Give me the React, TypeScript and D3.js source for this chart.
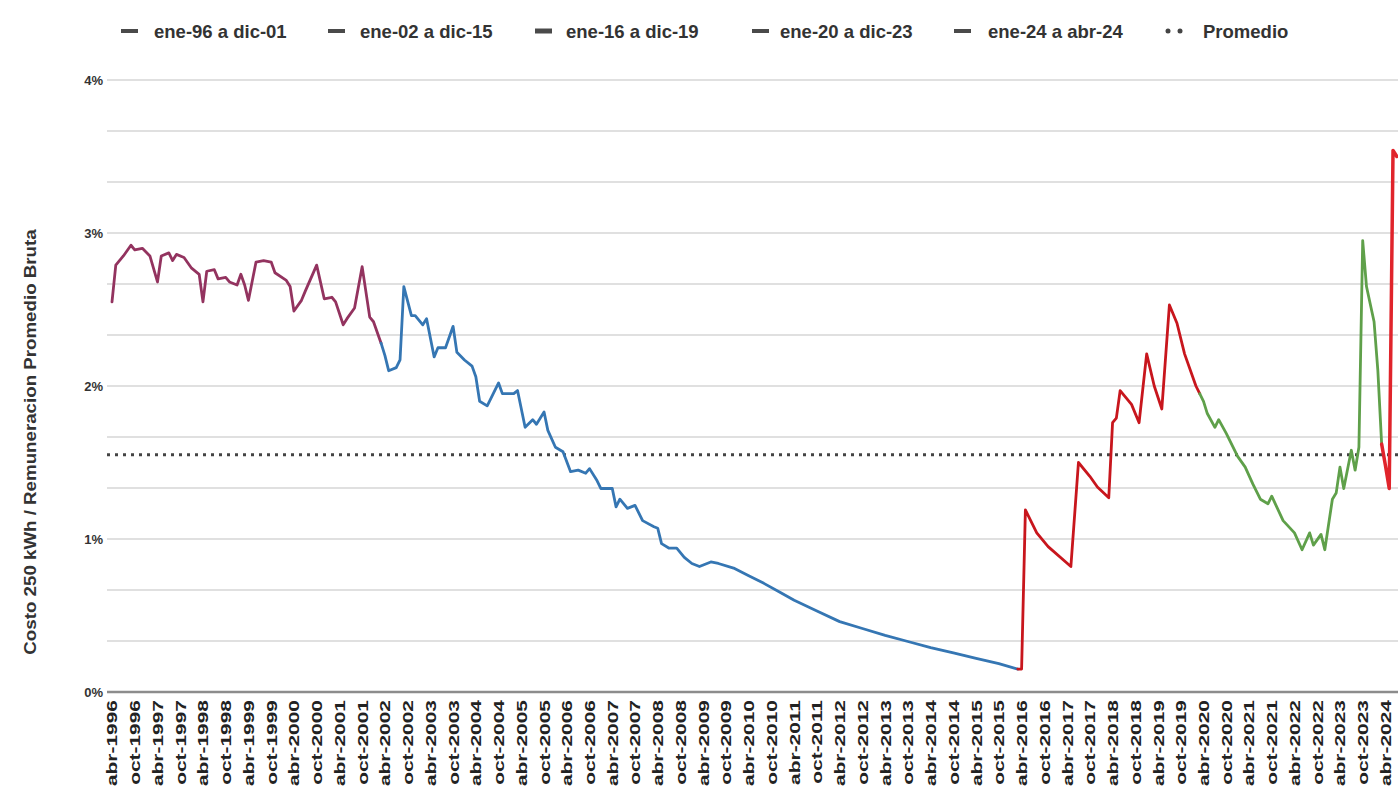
import React, { useEffect } from "react";
import * as d3 from "d3";

// ---------- DATA ----------
const legendLabels = [
  "ene-96 a dic-01",
  "ene-02 a dic-15",
  "ene-16 a dic-19",
  "ene-20 a dic-23",
  "ene-24 a abr-24",
];
const averageLabel = "Promedio";
const averageValue = 1.55;
const seriesColors = ["#93335f", "#3576b3", "#c8161d", "#5fa04a", "#e0242b"];

const s1Months = ["1996-01","1996-02","1996-04","1996-06","1996-07","1996-09","1996-11","1997-01","1997-02","1997-04","1997-05","1997-06","1997-08","1997-10","1997-12","1998-01","1998-02","1998-04","1998-05","1998-07","1998-08","1998-10","1998-11","1998-12","1999-01","1999-03","1999-05","1999-07","1999-08","1999-11","1999-12","2000-01","2000-03","2000-04","2000-07","2000-09","2000-11","2000-12","2001-02","2001-03","2001-05","2001-07","2001-09","2001-10","2001-12"];
const s1Values = [2.55,2.79,2.85,2.92,2.89,2.9,2.85,2.68,2.85,2.87,2.82,2.86,2.84,2.77,2.73,2.55,2.75,2.76,2.7,2.71,2.68,2.66,2.73,2.66,2.56,2.81,2.82,2.81,2.74,2.69,2.65,2.49,2.56,2.62,2.79,2.57,2.58,2.55,2.4,2.44,2.51,2.78,2.45,2.42,2.28];

const s2Months = ["2002-01","2002-02","2002-04","2002-05","2002-06","2002-08","2002-09","2002-11","2002-12","2003-02","2003-03","2003-05","2003-07","2003-08","2003-10","2003-12","2004-01","2004-02","2004-04","2004-07","2004-08","2004-11","2004-12","2005-02","2005-04","2005-05","2005-07","2005-08","2005-10","2005-12","2006-02","2006-04","2006-06","2006-07","2006-09","2006-10","2007-01","2007-02","2007-03","2007-05","2007-07","2007-09","2007-12","2008-01","2008-02","2008-04","2008-06","2008-08","2008-10","2008-12","2009-03","2009-05","2009-09","2010-01","2010-05","2010-09","2011-01","2011-07","2012-01","2012-07","2013-01","2013-07","2014-01","2014-07","2015-01","2015-07","2015-12"];
const s2Values = [2.2,2.1,2.12,2.17,2.65,2.46,2.46,2.4,2.44,2.19,2.25,2.25,2.39,2.22,2.17,2.13,2.06,1.9,1.87,2.02,1.95,1.95,1.97,1.73,1.78,1.75,1.83,1.71,1.6,1.57,1.44,1.45,1.43,1.46,1.38,1.33,1.33,1.21,1.26,1.2,1.22,1.12,1.08,1.07,0.97,0.94,0.94,0.88,0.84,0.82,0.85,0.84,0.81,0.76,0.71,0.655,0.6,0.53,0.46,0.415,0.37,0.33,0.29,0.255,0.22,0.185,0.15];

const s3Months = ["2016-01","2016-02","2016-05","2016-08","2017-02","2017-04","2017-07","2017-09","2017-12","2018-01","2018-02","2018-03","2018-06","2018-08","2018-10","2018-12","2019-02","2019-04","2019-06","2019-08","2019-11","2019-12"];
const s3Values = [0.15,1.19,1.04,0.95,0.82,1.5,1.41,1.34,1.27,1.76,1.79,1.97,1.88,1.76,2.21,2.0,1.85,2.53,2.41,2.21,2.0,1.95];

const s4Months = ["2020-01","2020-02","2020-04","2020-05","2020-07","2020-10","2020-12","2021-02","2021-04","2021-06","2021-07","2021-10","2022-01","2022-03","2022-05","2022-06","2022-08","2022-09","2022-11","2022-12","2023-01","2023-02","2023-04","2023-05","2023-06","2023-07","2023-08","2023-10","2023-11","2023-12"];
const s4Values = [1.9,1.82,1.73,1.78,1.69,1.54,1.47,1.36,1.26,1.23,1.28,1.12,1.04,0.93,1.04,0.96,1.03,0.93,1.26,1.3,1.47,1.33,1.58,1.45,1.6,2.95,2.65,2.42,2.1,1.62];

const s5Months = ["2024-01","2024-02","2024-03","2024-04"];
const s5Values = [1.48,1.33,3.54,3.5];

const yTickValues = [0, 1, 2, 3, 4];
const gridValues = [0, 1 / 3, 2 / 3, 1, 4 / 3, 5 / 3, 2, 7 / 3, 8 / 3, 3, 10 / 3, 11 / 3, 4];

const xTickLabels = ["abr-1996","oct-1996","abr-1997","oct-1997","abr-1998","oct-1998","abr-1999","oct-1999","abr-2000","oct-2000","abr-2001","oct-2001","abr-2002","oct-2002","abr-2003","oct-2003","abr-2004","oct-2004","abr-2005","oct-2005","abr-2006","oct-2006","abr-2007","oct-2007","abr-2008","oct-2008","abr-2009","oct-2009","abr-2010","oct-2010","abr-2011","oct-2011","abr-2012","oct-2012","abr-2013","oct-2013","abr-2014","oct-2014","abr-2015","oct-2015","abr-2016","oct-2016","abr-2017","oct-2017","abr-2018","oct-2018","abr-2019","oct-2019","abr-2020","oct-2020","abr-2021","oct-2021","abr-2022","oct-2022","abr-2023","oct-2023","abr-2024"];

const yAxisTitle = "Costo 250 kWh / Remuneracion Promedio Bruta";

// ---------- HELPERS ----------
const monthIndex = (s: string) => {
  const [y, m] = s.split("-").map(Number);
  return (y - 1996) * 12 + (m - 1);
};
const toPoints = (months: string[], values: number[]) =>
  months.map((m, i) => ({ i: monthIndex(m), v: values[i] }));

const seriesList = [
  toPoints(s1Months, s1Values),
  toPoints(s2Months, s2Values),
  toPoints(s3Months, s3Values),
  toPoints(s4Months, s4Values),
  toPoints(s5Months, s5Values),
];

const W = 1398;
const H = 787;
const FONT = "'Liberation Sans', Arial, sans-serif";

export default function App() {
  useEffect(() => {
    document.body.style.margin = "0";
  }, []);

  const lastIndex = monthIndex("2024-04");
  const x = d3.scaleLinear().domain([0, lastIndex]).range([112, 112 + 3.79 * lastIndex]);
  const y = d3.scaleLinear().domain([0, 4]).range([692, 80]);
  const line = d3
    .line<{ i: number; v: number }>()
    .x((d) => x(d.i))
    .y((d) => y(d.v))
    .curve(d3.curveLinear);

  const plotLeft = 107;
  const plotRight = W + 10;

  const legendSwatchX = [121, 328, 535, 752, 954];
  const legendTextX = [154, 360, 566, 780, 988];

  return (
    <svg width={W} height={H} style={{ display: "block", background: "#fff" }} fontFamily={FONT}>
      {/* grid */}
      {gridValues.map((g, k) => (
        <line
          key={k}
          x1={plotLeft}
          x2={plotRight}
          y1={y(g)}
          y2={y(g)}
          stroke={g === 0 ? "#8c8c8c" : "#d6d6d6"}
          strokeWidth={g === 0 ? 2.5 : 1.6}
        />
      ))}
      {/* y labels */}
      {yTickValues.map((t) => (
        <text
          key={t}
          x={103}
          y={y(t)}
          textAnchor="end"
          dominantBaseline="central"
          fontSize={13}
          fontWeight="bold"
          fill="#333"
        >
          {t + "%"}
        </text>
      ))}
      {/* y title */}
      <text
        transform={`translate(30,442) rotate(-90) scale(1.17,1)`}
        textAnchor="middle"
        dominantBaseline="central"
        fontSize={16}
        fontWeight="bold"
        fill="#333"
      >
        {yAxisTitle}
      </text>
      {/* x labels */}
      {xTickLabels.map((lbl, k) => (
        <text
          key={lbl}
          transform={`translate(${x(k * 6)},700) rotate(-90) scale(1.35,1)`}
          textAnchor="end"
          dominantBaseline="central"
          fontSize={15.5}
          fontWeight="bold"
          fill="#222"
        >
          {lbl}
        </text>
      ))}
      {/* average */}
      <line
        x1={plotLeft}
        x2={plotRight}
        y1={y(averageValue)}
        y2={y(averageValue)}
        stroke="#444"
        strokeWidth={3}
        strokeDasharray="3 5"
      />
      {/* series */}
      {seriesList.map((pts, k) => {
        const withJoin = k > 0 ? [seriesList[k - 1][seriesList[k - 1].length - 1], ...pts] : pts;
        return (
          <path
            key={k}
            d={line(withJoin) || ""}
            fill="none"
            stroke={seriesColors[k]}
            strokeWidth={k === 4 ? 3.5 : 2.8}
            strokeLinejoin="round"
            strokeLinecap="round"
          />
        );
      })}
      {/* legend */}
      {legendLabels.map((lbl, k) => (
        <g key={lbl}>
          <line
            x1={legendSwatchX[k]}
            x2={legendSwatchX[k] + 17}
            y1={31}
            y2={31}
            stroke="#4a4a4a"
            strokeWidth={k === 2 ? 5 : 4}
          />
          <text
            x={legendTextX[k]}
            y={31}
            dominantBaseline="central"
            fontSize={18.5}
            fontWeight="bold"
            fill="#333"
          >
            {lbl}
          </text>
        </g>
      ))}
      <circle cx={1168} cy={31} r={2.5} fill="#444" />
      <circle cx={1180} cy={31} r={2.5} fill="#444" />
      <text x={1203} y={31} dominantBaseline="central" fontSize={18.5} fontWeight="bold" fill="#333">
        {averageLabel}
      </text>
    </svg>
  );
}
